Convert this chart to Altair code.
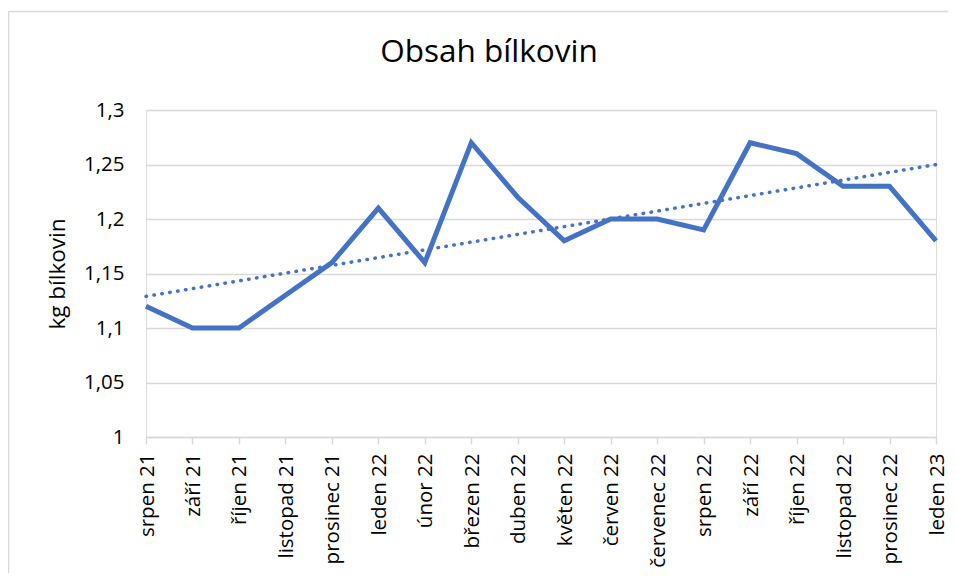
import altair as alt
import pandas as pd

months = ["srpen 21", "září 21", "říjen 21", "listopad 21", "prosinec 21",
          "leden 22", "únor 22", "březen 22", "duben 22", "květen 22",
          "červen 22", "červenec 22", "srpen 22", "září 22", "říjen 22",
          "listopad 22", "prosinec 22", "leden 23"]
values = [1.12, 1.10, 1.10, 1.13, 1.16, 1.21, 1.16, 1.27, 1.22, 1.18,
          1.20, 1.20, 1.19, 1.27, 1.26, 1.23, 1.23, 1.18]
y_ticks = [1.0, 1.05, 1.1, 1.15, 1.2, 1.25, 1.3]

df = pd.DataFrame({"i": list(range(len(months))), "month": months, "v": values})

FONT = "Open Sans"
BLUE = "#4472C4"
GREY = "#D9D9D9"

label_expr = "[" + ",".join("'" + m + "'" for m in months) + "][datum.value]"

x_enc = alt.X("i:Q",
              scale=alt.Scale(domain=[0, len(months) - 1], nice=False, zero=False),
              axis=alt.Axis(values=list(range(len(months))), labelExpr=label_expr,
                            labelAngle=270, labelAlign="right", labelBaseline="middle",
                            labelOverlap=False, labelFlush=False, labelBound=False,
                            grid=False, domainColor=GREY, domainWidth=1.5,
                            tickColor=GREY, tickWidth=1.5, tickSize=7,
                            labelPadding=9, labelOffset=1,
                            labelFont=FONT, labelFontSize=20.5, labelColor="#000000",
                            title=None))
y_enc = alt.Y("v:Q",
              scale=alt.Scale(domain=[1.0, 1.3], nice=False, zero=False),
              axis=alt.Axis(values=y_ticks, format="~g",
                            labelExpr="replace(datum.label, '.', ',')",
                            domain=False, ticks=False, grid=True,
                            gridColor=GREY, gridWidth=1.5,
                            labelPadding=22, labelFont=FONT, labelFontSize=20.5,
                            labelColor="#000000",
                            title="kg bílkovin", titleFont=FONT, titleFontSize=22.5,
                            titleFontWeight="normal", titleColor="#000000",
                            titlePadding=14))

base = alt.Chart(df)

frame_top = base.mark_rule(stroke=GREY, strokeWidth=1.5).encode(
    x=alt.value(-137.5), x2=alt.value(1000), y=alt.value(-98.5)
).transform_filter("datum.i == 0")
frame_left = base.mark_rule(stroke=GREY, strokeWidth=1.5).encode(
    x=alt.value(-137.5), y=alt.value(-98.5), y2=alt.value(600)
).transform_filter("datum.i == 0")

line = base.mark_line(color=BLUE, strokeWidth=5, strokeJoin="miter", strokeCap="butt").encode(
    x=x_enc, y=y_enc)

trend = base.transform_regression("i", "v").mark_line(
    color=BLUE, strokeWidth=3.5, strokeDash=[0.5, 7.5], strokeCap="round").encode(
    x="i:Q", y="v:Q")

chart = alt.layer(frame_top, frame_left, trend, line).properties(
    width=790, height=327,
    title=alt.TitleParams("Obsah bílkovin", font=FONT, fontSize=31.5, fontWeight="normal",
                          color="#000000", anchor="middle", dx=-52, baseline="alphabetic",
                          offset=-83),
    autosize=alt.AutoSizeParams(type="none"),
    padding={"left": 138, "top": 102, "right": 12, "bottom": 136},
).configure_view(stroke=None).configure(background="white")

chart.save("out.html", embed_options={"renderer": "svg", "actions": False})
